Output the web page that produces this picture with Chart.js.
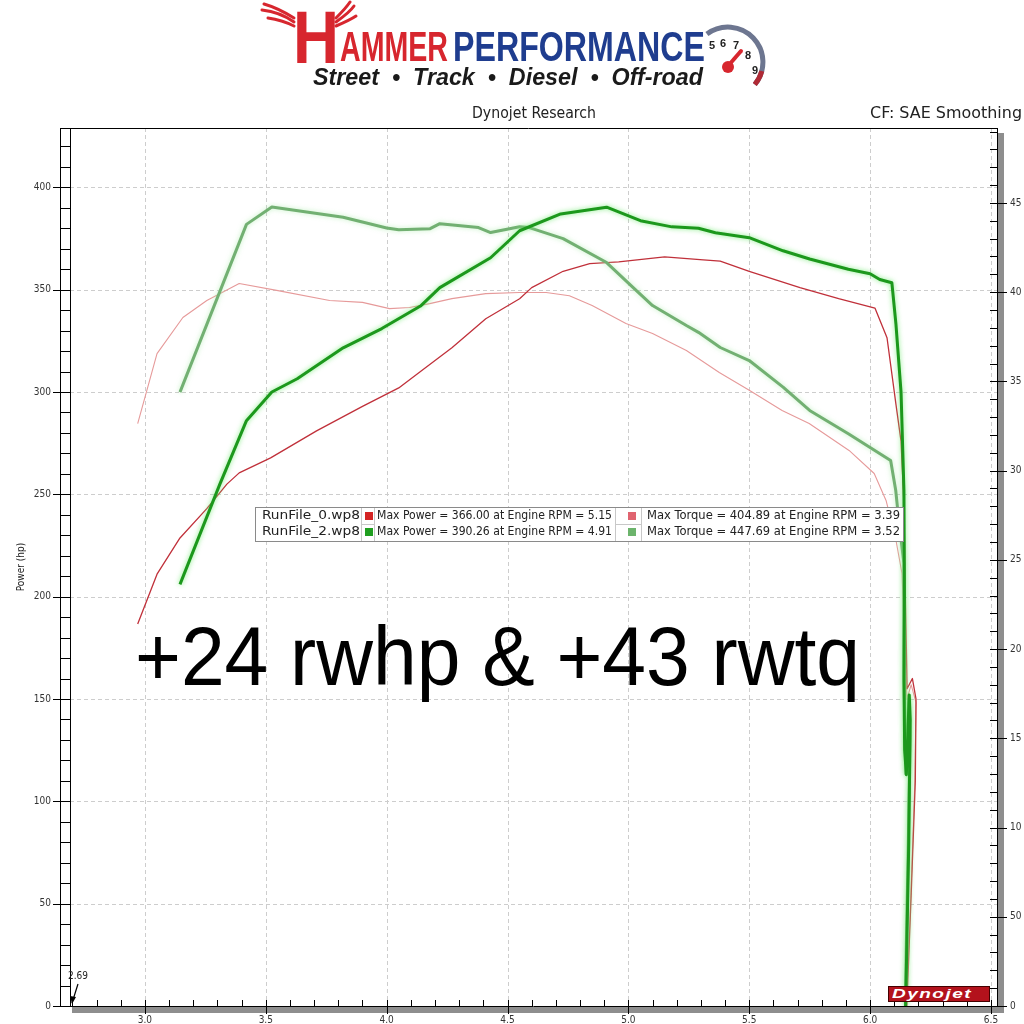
<!DOCTYPE html>
<html><head><meta charset="utf-8">
<script src="https://cdn.jsdelivr.net/npm/chart.js@4.4.1/dist/chart.umd.min.js"></script>
<style>
html,body{margin:0;padding:0;background:#fff;}
#wrap{position:relative;width:1024px;height:1024px;overflow:hidden;background:#fff;}
canvas{position:absolute;left:0;top:0;}
.abs{position:absolute;white-space:nowrap;line-height:1;transform-origin:0 0;}
</style></head><body>
<div id="wrap">
<canvas id="c" width="1024" height="1024"></canvas>
<svg class="abs" style="left:250px;top:0px" width="120" height="40">
  <g stroke="#d7262e" stroke-width="3" fill="none" stroke-linecap="round">
    <path d="M44 22 Q30 12 12 10"/><path d="M44 18 Q28 8 14 4"/><path d="M44 26 Q32 20 18 18"/>
    <path d="M86 22 Q100 12 104 6"/><path d="M86 18 Q96 8 100 2"/><path d="M86 26 Q100 20 106 16"/>
  </g>
</svg>
<div class="abs" id="lH" style="left:293px;top:-5px;font:bold 74px 'Liberation Sans Narrow','Liberation Sans',sans-serif;color:#d7262e;">H</div>
<div class="abs" id="lAmmer" style="left:340px;top:23px;font:bold 42px 'Liberation Sans Narrow','Liberation Sans',sans-serif;color:#d7262e;">AMMER</div>
<div class="abs" id="lPerf" style="left:453px;top:23px;font:bold 42px 'Liberation Sans Narrow','Liberation Sans',sans-serif;color:#1f3d8f;">PERFORMANCE</div>
<div class="abs" id="lTag" style="left:313px;top:63px;font:italic bold 24px 'Liberation Sans',sans-serif;color:#1a1a1a;">Street &nbsp;•&nbsp; Track &nbsp;•&nbsp; Diesel &nbsp;•&nbsp; Off-road</div>
<svg class="abs" style="left:700px;top:18px" width="72" height="74">
  <path d="M6.9 16.1 A35 35 0 0 1 54.8 66.5" stroke="#6d7690" stroke-width="5" fill="none"/>
  <path d="M61.8 53.1 A35 35 0 0 1 54.8 66.5" stroke="#b02a35" stroke-width="5" fill="none"/>
  <g font-family="Liberation Sans,sans-serif" font-weight="bold" font-size="11" fill="#222">
    <text x="9" y="31">5</text><text x="20" y="29">6</text><text x="33" y="31">7</text><text x="45" y="41">8</text><text x="52" y="56">9</text>
  </g>
  <line x1="28" y1="48" x2="41" y2="33" stroke="#d7262e" stroke-width="4" stroke-linecap="round"/>
  <circle cx="28" cy="49" r="6" fill="#d7262e"/>
</svg>
<div class="abs" id="hTitle" style="left:472px;top:104px;font:15px 'DejaVu Sans Condensed','DejaVu Sans',sans-serif;color:#222;">Dynojet Research</div>
<div class="abs" id="hCF" style="left:870px;top:104px;font:15px 'DejaVu Sans Condensed','DejaVu Sans',sans-serif;color:#222;">CF: SAE Smoothing</div>
<div class="abs" id="dyno" style="left:888px;top:986px;width:100px;height:14px;background:#b3121c;border:1px solid #400;"></div>
<div class="abs" id="dynoT" style="left:892px;top:986px;font:italic bold 13px 'Liberation Sans',sans-serif;color:#fff;letter-spacing:1px;">Dynojet</div>
</div>
<script>
// ---------- data ----------
const run0PowerRpm = [2.97,3.05,3.145,3.256,3.339,3.39,3.52,3.71,3.90,4.05,4.14,4.27,4.41,4.55,4.60,4.73,4.84,4.96,5.15,5.31,5.38,5.50,5.71,5.87,6.02,6.07,6.107,6.128,6.14,6.145,6.15,6.153,6.175,6.19,6.187,6.17,6.152];
const run0PowerHp  = [186.7,211,228.7,243,255,260.5,267.8,281,293,302,310,321.6,335.8,345.6,351,359,362.7,363.6,366,364.6,364,359,351,345.6,341,326.5,294,276,245,205,175,155,160,150,110,55,0];
const run0TorqueRpm = [2.97,3.008,3.05,3.157,3.256,3.39,3.545,3.764,3.90,4.012,4.095,4.178,4.27,4.41,4.55,4.66,4.756,4.85,4.99,5.10,5.24,5.376,5.5,5.636,5.748,5.913,6.017,6.066,6.107,6.132,6.14,6.148,6.152,6.17,6.19,6.185,6.168,6.15];
const run0TorqueLbft = [326.4,345,365.6,385.8,395.3,404.9,401,395.3,394.3,390.8,391.4,393.6,396.4,399.2,399.8,399.8,398,392.5,382.4,376.8,367.3,355,345,333.7,326.4,311.3,298.4,283.3,261,242.4,215,185,172,180,170,125,60,0];
const run2PowerRpm = [3.145,3.31,3.42,3.525,3.63,3.82,3.98,4.14,4.22,4.43,4.55,4.72,4.91,5.05,5.18,5.29,5.36,5.50,5.64,5.75,5.91,6.00,6.04,6.09,6.107,6.128,6.14,6.142,6.14,6.143,6.15,6.162,6.166,6.16,6.152,6.147];
const run2PowerHp  = [206,255,286,300,306.5,321.6,331,342,351,365.6,378.8,387,390.3,383.7,380.7,380,377.8,375.4,369,365,360,357.8,355,353.4,333,300,252,200,160,125,113,152,140,80,30,0];
const run2TorqueRpm = [3.145,3.42,3.525,3.82,4.0,4.05,4.18,4.22,4.38,4.43,4.55,4.59,4.73,4.91,5.02,5.10,5.24,5.29,5.38,5.50,5.64,5.75,5.91,6.085,6.106,6.12,6.14,6.14,6.143,6.148,6.16,6.165,6.158,6.15,6.146];
const run2TorqueLbft = [344,438,447.7,442,436,435,435.6,438.4,436.2,433.4,436.7,436.2,430,416.6,402.6,392.5,381.3,377.5,369,361.7,346.8,333.7,320.7,305.7,289,270.4,248,200,160,130,172,150,90,35,0];

const xMajorTicks = [3.0,3.5,4.0,4.5,5.0,5.5,6.0,6.5];
const xMajorLabels = ['3.0','3.5','4.0','4.5','5.0','5.5','6.0','6.5'];
const hpTicks = [0,50,100,150,200,250,300,350,400];
const hpTickLabels = ['0','50','100','150','200','250','300','350','400'];
const tqTicks = [0,50,100,150,200,250,300,350,400,450];
const tqTickLabels = ['0','50','10','15','20','25','30','35','40','45'];

const legendFiles = ['RunFile_0.wp8','RunFile_2.wp8'];
const legendPower = ['Max Power = 366.00 at Engine RPM = 5.15','Max Power = 390.26 at Engine RPM = 4.91'];
const legendTorque = ['Max Torque = 404.89 at Engine RPM = 3.39','Max Torque = 447.69 at Engine RPM = 3.52'];
const bigCaption = '+24 rwhp & +43 rwtq';
const yAxisTitle = 'Power (hp)';
const startMarker = '2.69';

const pts = (xs, ys) => xs.map((v,i)=>({x:v,y:ys[i]}));

// ---------- header fitting ----------
function fitW(id, w){
  const el=document.getElementById(id);
  const r=el.getBoundingClientRect().width;
  el.style.transform='scaleX('+(w/r)+')';
}
fitW('lH',46); fitW('lAmmer',108); fitW('lPerf',252); fitW('lTag',390);
fitW('hTitle',124); fitW('hCF',152); fitW('dynoT',80);

function fitText(ctx,s,x,y,w){
  const m=ctx.measureText(s).width;
  ctx.save(); ctx.translate(x,y); ctx.scale(w/m,1); ctx.fillText(s,0,0); ctx.restore();
}
function ln(ctx,x1,y1,x2,y2){ctx.beginPath();ctx.moveTo(x1,y1);ctx.lineTo(x2,y2);ctx.stroke();}

const AX_FONT = "10px 'DejaVu Sans Condensed','DejaVu Sans',sans-serif";

const deco = {
  id:'deco',
  beforeDatasetsDraw(chart){
    const {ctx, chartArea:a, scales:{x,y}} = chart;
    ctx.save();
    ctx.strokeStyle='#cdcdcd'; ctx.lineWidth=1; ctx.setLineDash([4,3]);
    xMajorTicks.forEach(v=>{const p=Math.round(x.getPixelForValue(v))+0.5; ln(ctx,p,a.top,p,a.bottom);});
    hpTicks.forEach(v=>{ if(v===0) return; const p=Math.round(y.getPixelForValue(v))+0.5; ln(ctx,a.left,p,a.right,p);});
    ctx.restore();
  },
  beforeDatasetDraw(chart,args){
    const ds=chart.data.datasets[args.index];
    chart.ctx.save();
    if(ds.glow){chart.ctx.shadowColor=ds.glow;chart.ctx.shadowBlur=5;}
  },
  afterDatasetDraw(chart){ chart.ctx.restore(); },
  afterDatasetsDraw(chart){
    const {ctx, chartArea:a, scales:{x,y,y1}} = chart;
    ctx.save();
    // big caption
    ctx.fillStyle='#000'; ctx.textBaseline='alphabetic'; ctx.textAlign='left';
    ctx.font="84px 'Liberation Sans',Arial,sans-serif";
    fitText(ctx,bigCaption,135,685,725);

    // legend
    ctx.fillStyle='#fff'; ctx.fillRect(255,507,648,34);
    ctx.strokeStyle='#8a8a8a'; ctx.lineWidth=1; ctx.strokeRect(255.5,507.5,648,34);
    ctx.strokeStyle='#c8c8c8';
    [361.5,374.5,615.5,641.5].forEach(px=>ln(ctx,px,508,px,541));
    ln(ctx,362,524.5,374,524.5); ln(ctx,616,524.5,641,524.5);
    const sw=[['#d42424','#e06470'],['#1f9e1f','#6cb46c']];
    ctx.font="12px 'DejaVu Sans Condensed','DejaVu Sans',sans-serif";
    ctx.textBaseline='middle'; ctx.fillStyle='#222';
    for(let r=0;r<2;r++){
      const cy=516+r*16;
      ctx.fillStyle='#222';
      fitText(ctx,legendFiles[r],262,cy,98);
      fitText(ctx,legendPower[r],377,cy,235);
      fitText(ctx,legendTorque[r],647,cy,253);
      ctx.fillStyle=sw[r][0]; ctx.fillRect(365,cy-4,8,8);
      ctx.fillStyle=sw[r][1]; ctx.fillRect(628,cy-4,8,8);
    }

    // frame / axes
    ctx.strokeStyle='#000'; ctx.lineWidth=1;
    ln(ctx,60,a.top+0.5,a.right,a.top+0.5);
    ln(ctx,60.5,a.top,60.5,a.bottom);
    ln(ctx,a.left+0.5,a.top,a.left+0.5,a.bottom);
    ln(ctx,a.right+0.5,a.top,a.right+0.5,a.bottom);
    ln(ctx,a.left,a.bottom+0.5,a.right,a.bottom+0.5);
    ctx.fillStyle='#8e8e8e';
    ctx.fillRect(a.right+1,a.top+5,6,a.bottom-a.top+1);
    ctx.fillRect(a.left+2,a.bottom+1,a.right-a.left+5,6);

    // left axis ticks
    ctx.strokeStyle='#000';
    for(let v=0; v<=420; v+=10){
      const p=Math.round(y.getPixelForValue(v))+0.5;
      if(v%50===0) ln(ctx,53,p,a.left,p); else ln(ctx,60,p,a.left,p);
    }
    ctx.font=AX_FONT; ctx.fillStyle='#333'; ctx.textAlign='right'; ctx.textBaseline='middle';
    hpTicks.forEach((v,i)=>ctx.fillText(hpTickLabels[i],51,y.getPixelForValue(v)));

    // right axis ticks
    for(let v=0; v<=490; v+=10){
      const p=Math.round(y1.getPixelForValue(v))+0.5;
      if(v%50===0) ln(ctx,a.right-7,p,a.right+10,p); else ln(ctx,a.right-7,p,a.right,p);
    }
    ctx.textAlign='left';
    tqTicks.forEach((v,i)=>ctx.fillText(tqTickLabels[i],a.right+13,y1.getPixelForValue(v)));

    // x axis ticks
    for(let k=27; k<=65; k++){
      const v=k/10;
      const p=Math.round(x.getPixelForValue(v))+0.5;
      ln(ctx,p,a.bottom-6,p,a.bottom);
    }
    xMajorTicks.forEach(v=>{const p=Math.round(x.getPixelForValue(v))+0.5; ln(ctx,p,a.bottom,p,a.bottom+8);});
    ctx.textAlign='center'; ctx.textBaseline='middle';
    xMajorTicks.forEach((v,i)=>ctx.fillText(xMajorLabels[i],x.getPixelForValue(v),1020));

    // y title
    ctx.save(); ctx.translate(21,(a.top+a.bottom)/2); ctx.rotate(-Math.PI/2);
    ctx.fillStyle='#222'; ctx.fillText(yAxisTitle,0,0); ctx.restore();

    // start marker
    ctx.fillStyle='#222'; ctx.textAlign='left';
    ctx.fillText(startMarker,68,976);
    ctx.strokeStyle='#000'; ctx.lineWidth=1.2;
    const sx=x.getPixelForValue(2.69)+2;
    ln(ctx,sx+6,984,sx,1003);
    ctx.beginPath(); ctx.moveTo(sx,1004); ctx.lineTo(sx-2,996); ctx.lineTo(sx+4,997); ctx.closePath(); ctx.fillStyle='#000'; ctx.fill();
    ctx.restore();
  }
};

new Chart(document.getElementById('c'),{
  type:'scatter',
  data:{datasets:[
    {label:'RunFile_2 Power', data:pts(run2PowerRpm,run2PowerHp), yAxisID:'y', borderColor:'#1c981c', borderWidth:3, glow:'rgba(120,235,120,0.9)'},
    {label:'RunFile_2 Torque', data:pts(run2TorqueRpm,run2TorqueLbft), yAxisID:'y1', borderColor:'#72b072', borderWidth:3, glow:'rgba(170,235,170,0.7)'},
    {label:'RunFile_0 Power', data:pts(run0PowerRpm,run0PowerHp), yAxisID:'y', borderColor:'#c0303a', borderWidth:1.3},
    {label:'RunFile_0 Torque', data:pts(run0TorqueRpm,run0TorqueLbft), yAxisID:'y1', borderColor:'#e69a9a', borderWidth:1.1}
  ]},
  options:{
    responsive:false, animation:false, devicePixelRatio:1,
    showLine:true,
    elements:{point:{radius:0,hoverRadius:0},line:{tension:0,fill:false,borderJoinStyle:'round'}},
    layout:{padding:{left:70,top:128,right:27,bottom:18}},
    plugins:{legend:{display:false},tooltip:{enabled:false}},
    events:[],
    scales:{
      x:{type:'linear',min:2.69,max:6.525,display:false},
      y:{type:'linear',min:0,max:429,display:false},
      y1:{type:'linear',min:0,max:492,display:false,position:'right'}
    }
  },
  plugins:[deco]
});
</script>
</body></html>
